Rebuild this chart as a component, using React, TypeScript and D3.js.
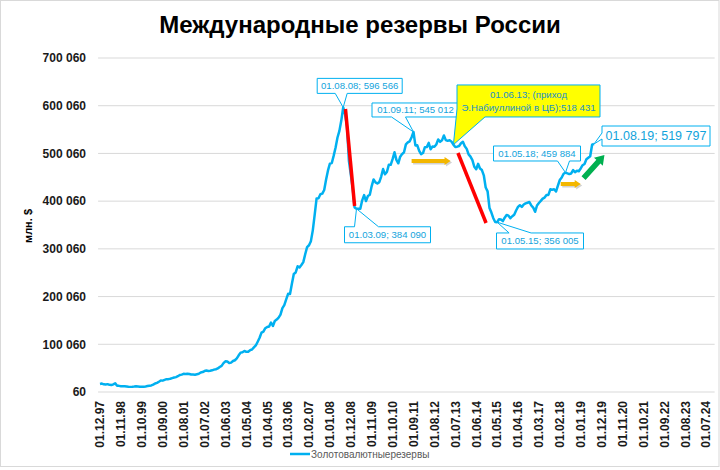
import React from "react";
import * as d3 from "d3";

// ---------- DATA ----------
const TITLE = "Международные резервы России";
const Y_TITLE = "млн. $";
const SERIES_NAME = "Золотовалютныерезервы";

// monthly categories 01.12.97 ... 01.11.24
const START_YEAR = 1997;
const START_MONTH = 11; // December (0-based)
const N_CATEGORIES = 324;
const categories: string[] = d3.range(N_CATEGORIES).map((i) => {
  const d = new Date(START_YEAR, START_MONTH + i, 1);
  return `01.${String(d.getMonth() + 1).padStart(2, "0")}.${String(d.getFullYear() % 100).padStart(2, "0")}`;
});

const X_TICK_LABELS = [
  "01.12.97", "01.11.98", "01.10.99", "01.09.00", "01.08.01", "01.07.02", "01.06.03", "01.05.04",
  "01.04.05", "01.03.06", "01.02.07", "01.01.08", "01.12.08", "01.11.09", "01.10.10", "01.09.11",
  "01.08.12", "01.07.13", "01.06.14", "01.05.15", "01.04.16", "01.03.17", "01.02.18", "01.01.19",
  "01.12.19", "01.11.20", "01.10.21", "01.09.22", "01.08.23", "01.07.24",
];

const Y_TICKS = [60, 100060, 200060, 300060, 400060, 500060, 600060, 700060];
const Y_TICK_LABELS = ["60", "100 060", "200 060", "300 060", "400 060", "500 060", "600 060", "700 060"];

// international reserves, mln USD, beginning of month
const v1997 = [16900];
const v1998 = [17780, 16190, 15800, 16550, 15100, 14600, 16000, 18400, 13000, 12900, 12300, 12200];
const v1999 = [12220, 11700, 11200, 10800, 11000, 11400, 11900, 11600, 11000, 11100, 11000, 11600];
const v2000 = [12460, 13300, 13900, 15400, 17900, 19200, 21600, 24200, 23900, 25500, 26900, 27000];
const v2001 = [27970, 29200, 30300, 31300, 33100, 35600, 36500, 38200, 38000, 38400, 37700, 36600];
const v2002 = [36620, 36200, 37200, 38200, 40800, 41800, 44000, 45000, 44100, 44700, 45500, 47000];
const v2003 = [47790, 49400, 52400, 54800, 60600, 64400, 63900, 60700, 61600, 65000, 66600, 70600];
const v2004 = [76940, 82600, 83400, 86000, 84200, 84600, 87700, 89200, 93600, 97600, 105500, 113700];
const v2005 = [124540, 126600, 133700, 136300, 137400, 145700, 138400, 148900, 151800, 155900, 162300, 176000];
const v2006 = [182240, 194200, 205900, 205300, 226800, 247300, 250600, 263500, 261200, 266200, 272200, 288600];
const v2007 = [303730, 307600, 316200, 338800, 371800, 405800, 406200, 414600, 415800, 423400, 445600, 464400];
const v2008 = [478760, 480000, 495400, 512600, 533400, 547300, 568900, 596566, 582000, 556800, 484700, 455700];
const v2009 = [427080, 386900, 384090, 383900, 383900, 401800, 412600, 400300, 410800, 413400, 431600, 445600];
const v2010 = [439450, 437000, 439900, 451600, 467300, 456500, 461200, 476100, 476100, 488100, 502400, 486500];
const v2011 = [479380, 493300, 498700, 502500, 519000, 523100, 525400, 533900, 545012, 516800, 517000, 505500];
const v2012 = [498650, 500900, 513200, 513300, 522100, 508800, 514400, 513900, 518800, 529400, 524400, 527500];
const v2013 = [537620, 527900, 526400, 527900, 524800, 518431, 513600, 514200, 515500, 521300, 524300, 515200];
const v2014 = [509600, 498000, 493300, 486100, 472100, 466900, 478300, 468400, 465200, 454200, 428600, 420600];
const v2015 = [385460, 376200, 364300, 356400, 356005, 362100, 361400, 358200, 365400, 371100, 369600, 364300];
const v2016 = [368400, 371600, 380500, 387900, 391500, 387900, 393000, 395400, 396800, 398200, 391000, 386600];
const v2017 = [377740, 390900, 396200, 400600, 405300, 407600, 412800, 413000, 424800, 424000, 424900, 420200];
const v2018 = [432740, 444400, 449600, 457500, 459884, 458400, 456800, 458100, 465100, 460600, 463800, 462900];
const v2019 = [468500, 475400, 477900, 487700, 490900, 494100, 518400, 519797];

const reserves = [
  ...v1997, ...v1998, ...v1999, ...v2000, ...v2001, ...v2002, ...v2003, ...v2004, ...v2005, ...v2006,
  ...v2007, ...v2008, ...v2009, ...v2010, ...v2011, ...v2012, ...v2013, ...v2014, ...v2015, ...v2016,
  ...v2017, ...v2018, ...v2019,
];

// annotated points
const CALLOUT_DATES = ["01.08.08", "01.03.09", "01.09.11", "01.06.13", "01.05.15", "01.05.18", "01.08.19"];
const CALLOUT_VALUES = [596566, 384090, 545012, 518431, 356005, 459884, 519797];
const CALLOUT_TEXTS = [
  ["01.08.08; 596 566"],
  ["01.03.09; 384 090"],
  ["01.09.11; 545 012"],
  ["01.06.13; (приход", "Э.Набиуллиной в ЦБ);518 431"],
  ["01.05.15; 356 005"],
  ["01.05.18; 459 884"],
  ["01.08.19; 519 797"],
];

// ---------- LAYOUT / STYLE ----------
const W = 720;
const H = 470;
const PLOT_LEFT = 99.05;
const STEP = 1.9;
const Y_BOTTOM = 392;
const Y_TOP = 58;
const LINE_COLOR = "#00b0f0";
const TEXT_BLUE = "#12a3dc";
const FONT = "'Liberation Sans', Arial, sans-serif";

type Callout = {
  dx: number; dy: number; w: number; h: number;
  side: "top" | "bottom" | "left" | "corner";
  a1: number; a2: number; fs: number; fill: string;
};
// box offsets relative to the annotated point
const CALLOUT_LAYOUT: Callout[] = [
  { dx: -26, dy: -29, w: 85, h: 15, side: "bottom", a1: -8, a2: 4, fs: 9.6, fill: "#fff" },
  { dx: -12, dy: 18, w: 86, h: 16, side: "top", a1: -2, a2: 22, fs: 9.6, fill: "#fff" },
  { dx: -41.5, dy: -29, w: 87, h: 14, side: "bottom", a1: -22, a2: -8, fs: 9.6, fill: "#fff" },
  { dx: 3.6, dy: -59.7, w: 143, h: 32, side: "corner", a1: -8, a2: 28, fs: 9.6, fill: "#ffff00" },
  { dx: -0.6, dy: 10.8, w: 87, h: 16, side: "top", a1: 12, a2: 34, fs: 9.6, fill: "#fff" },
  { dx: -72, dy: -26.6, w: 87, h: 15, side: "bottom", a1: -8, a2: 4, fs: 9.6, fill: "#fff" },
  { dx: 8, dy: -18, w: 108, h: 20, side: "left", a1: 7, a2: 13, fs: 12.5, fill: "#fff" },
];

// decorative arrows in data coordinates (category index, value)
const RED_LINES = [
  { i0: 129.2, v0: 593100, i1: 134, v1: 389900 },
  { i0: 188.4, v0: 501000, i1: 203.2, v1: 354200 },
];
const ORANGE_ARROWS = [
  { i0: 164, v0: 484200, i1: 184.5, v1: 484200 },
  { i0: 242.5, v0: 435900, i1: 253, v1: 435900 },
];
const GREEN_ARROWS = [{ i0: 254.5, v0: 448500, i1: 265.5, v1: 496700 }];

function blockArrow(x0: number, y0: number, x1: number, y1: number, shaft: number, headW: number, headL: number) {
  const len = Math.hypot(x1 - x0, y1 - y0);
  const ux = (x1 - x0) / len, uy = (y1 - y0) / len;
  const nx = -uy, ny = ux;
  const bx = x1 - ux * headL, by = y1 - uy * headL;
  const pts = [
    [x0 + nx * shaft / 2, y0 + ny * shaft / 2],
    [bx + nx * shaft / 2, by + ny * shaft / 2],
    [bx + nx * headW / 2, by + ny * headW / 2],
    [x1, y1],
    [bx - nx * headW / 2, by - ny * headW / 2],
    [bx - nx * shaft / 2, by - ny * shaft / 2],
    [x0 - nx * shaft / 2, y0 - ny * shaft / 2],
  ];
  return "M" + pts.map((p) => p.join(",")).join("L") + "Z";
}

function calloutPath(x0: number, y0: number, w: number, h: number, c: Callout, tx: number, ty: number) {
  const x1 = x0 + w, y1 = y0 + h;
  if (c.side === "bottom") {
    const a1 = tx + c.a1, a2 = tx + c.a2;
    return `M${x0},${y0}L${x1},${y0}L${x1},${y1}L${a2},${y1}L${tx},${ty}L${a1},${y1}L${x0},${y1}Z`;
  }
  if (c.side === "top") {
    const a1 = tx + c.a1, a2 = tx + c.a2;
    return `M${x0},${y0}L${a1},${y0}L${tx},${ty}L${a2},${y0}L${x1},${y0}L${x1},${y1}L${x0},${y1}Z`;
  }
  if (c.side === "left") {
    const a1 = y0 + c.a1, a2 = y0 + c.a2;
    return `M${x0},${y0}L${x1},${y0}L${x1},${y1}L${x0},${y1}L${x0},${a2}L${tx},${ty}L${x0},${a1}Z`;
  }
  // corner: wedge from bottom-left corner
  const ay = y1 + c.a1, ax = x0 + c.a2;
  return `M${x0},${y0}L${x1},${y0}L${x1},${y1}L${ax},${y1}L${tx},${ty}L${x0},${ay}Z`;
}

export default function App() {
  const x = d3.scaleBand<string>().domain(categories).range([PLOT_LEFT, PLOT_LEFT + N_CATEGORIES * STEP]).padding(0);
  const xc = (i: number) => (x(categories[0]) as number) + x.bandwidth() / 2 + i * x.step();
  const xCat = (c: string) => (x(c) as number) + x.bandwidth() / 2;
  const y = d3.scaleLinear().domain([60, 700060]).range([Y_BOTTOM, Y_TOP]);

  const line = d3.line<number>().x((_, i) => xc(i)).y((d) => y(d));
  const gridX0 = PLOT_LEFT - 1;
  const gridX1 = PLOT_LEFT + N_CATEGORIES * STEP;

  return (
    <svg width={W} height={H} style={{ position: "absolute", left: 0, top: 0, background: "#fff" }} fontFamily={FONT}>
      <rect x={0.5} y={0.5} width={W - 1.5} height={466} fill="#fff" stroke="#d9d9d9" />
      <text x={360} y={33} textAnchor="middle" fontSize={24} fontWeight="bold" fill="#000">{TITLE}</text>

      {/* grid & y labels */}
      {Y_TICKS.map((t, k) => (
        <g key={t}>
          <line x1={gridX0} x2={gridX1} y1={y(t)} y2={y(t)} stroke="#d9d9d9" strokeWidth={1} />
          <text x={86} y={y(t)} dy="0.36em" textAnchor="end" fontSize={12} fontWeight="bold" fill="#1a1a1a">
            {Y_TICK_LABELS[k]}
          </text>
        </g>
      ))}
      <text transform={`translate(32,226) rotate(-90)`} textAnchor="middle" fontSize={11} fontWeight="bold" fill="#000">{Y_TITLE}</text>

      {/* x labels */}
      {X_TICK_LABELS.map((lab) => (
        <text key={lab} transform={`translate(${xCat(lab)},${Y_BOTTOM + 9}) rotate(-90)`} textAnchor="end" dy="0.36em"
          fontSize={12} fontWeight="bold" fill="#1a1a1a">{lab}</text>
      ))}

      {/* series */}
      <path d={line(reserves) as string} fill="none" stroke={LINE_COLOR} strokeWidth={2.5} strokeLinejoin="round" />

      {/* red lines */}
      {RED_LINES.map((r, k) => (
        <line key={k} x1={xc(r.i0)} y1={y(r.v0)} x2={xc(r.i1)} y2={y(r.v1)} stroke="#ff0000" strokeWidth={3.5} />
      ))}
      {/* orange arrows */}
      {ORANGE_ARROWS.map((a, k) => (
        <g key={k}>
          <path d={blockArrow(xc(a.i0) + 1.5, y(a.v0) + 1.5, xc(a.i1) + 1.5, y(a.v1) + 1.5, 4, 8, 6)} fill="#a6a6a6" opacity={0.5} />
          <path d={blockArrow(xc(a.i0), y(a.v0), xc(a.i1), y(a.v1), 4, 8, 6)} fill="#f3b700" />
        </g>
      ))}
      {GREEN_ARROWS.map((a, k) => (
        <path key={k} d={blockArrow(xc(a.i0), y(a.v0), xc(a.i1), y(a.v1), 5.5, 12, 9)} fill="#00b050" />
      ))}

      {/* callouts */}
      {CALLOUT_DATES.map((dt, k) => {
        const idx = categories.indexOf(dt);
        const tx = xc(idx);
        const ty = y(CALLOUT_VALUES[k]);
        const c = CALLOUT_LAYOUT[k];
        const bx = tx + c.dx, by = ty + c.dy;
        const lines = CALLOUT_TEXTS[k];
        const lh = c.fs * 1.35;
        const cy = by + c.h / 2 - ((lines.length - 1) * lh) / 2;
        return (
          <g key={dt}>
            <path d={calloutPath(bx, by, c.w, c.h, c, tx, ty)} fill={c.fill} stroke={LINE_COLOR} strokeWidth={1} />
            {lines.map((t, j) => (
              <text key={j} x={bx + c.w / 2} y={cy + j * lh} dy="0.35em" textAnchor="middle" fontSize={c.fs}
                fill={k === 3 ? "#1a8fc9" : TEXT_BLUE}>{t}</text>
            ))}
          </g>
        );
      })}

      {/* legend */}
      <line x1={290} x2={310} y1={454} y2={454} stroke={LINE_COLOR} strokeWidth={2.5} />
      <text x={311} y={454} dy="0.35em" fontSize={10} fill="#595959">{SERIES_NAME}</text>
    </svg>
  );
}
